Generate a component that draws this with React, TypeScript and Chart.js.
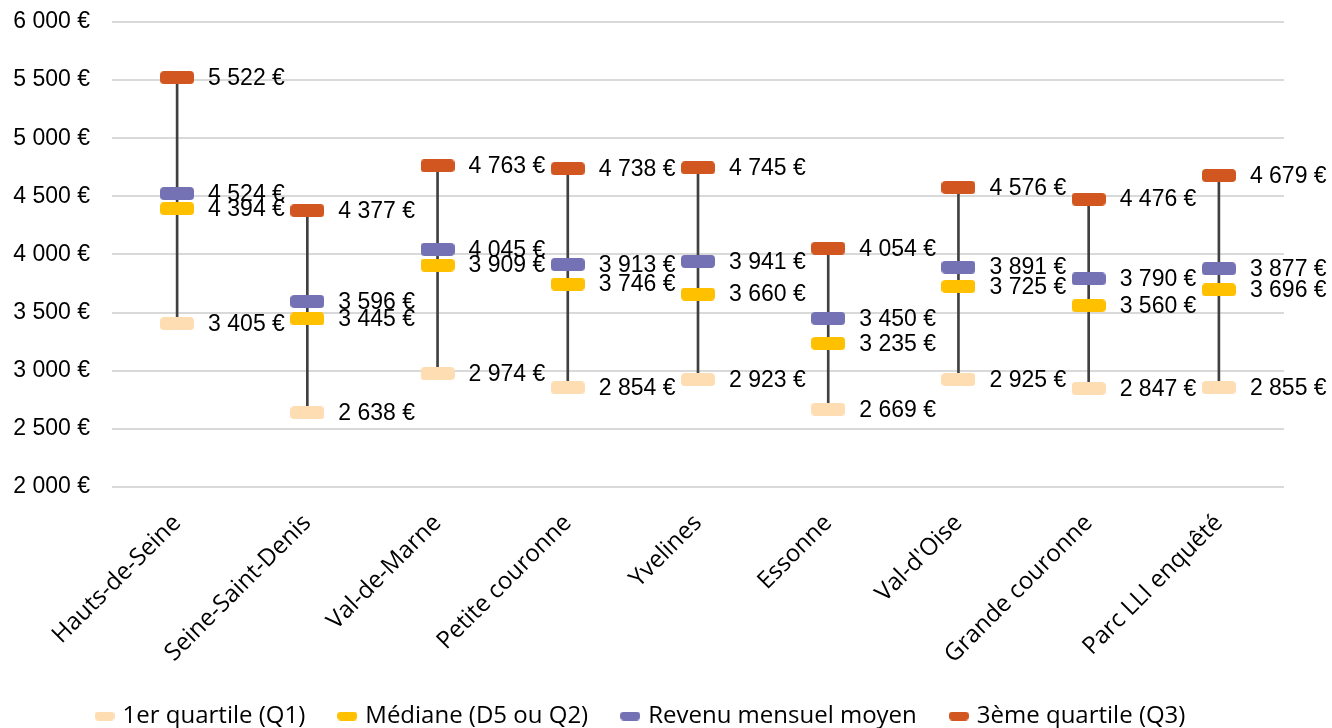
import React, { useEffect, useRef } from "react";
import { Chart, registerables } from "chart.js";

Chart.register(...registerables);

const categories = [
  "Hauts-de-Seine",
  "Seine-Saint-Denis",
  "Val-de-Marne",
  "Petite couronne",
  "Yvelines",
  "Essonne",
  "Val-d'Oise",
  "Grande couronne",
  "Parc LLI enquêté",
];
const q1 = [3405, 2638, 2974, 2854, 2923, 2669, 2925, 2847, 2855];
const median = [4394, 3445, 3909, 3746, 3660, 3235, 3725, 3560, 3696];
const mean = [4524, 3596, 4045, 3913, 3941, 3450, 3891, 3790, 3877];
const q3 = [5522, 4377, 4763, 4738, 4745, 4054, 4576, 4476, 4679];

const seriesNames = [
  "1er quartile (Q1)",
  "Médiane (D5 ou Q2)",
  "Revenu mensuel moyen",
  "3ème quartile (Q3)",
];
const seriesColors = ["#FFDDB3", "#FFC000", "#7471B4", "#D1561F"];

const fmt = (v: number) => {
  const s = Math.round(v).toString();
  const parts: string[] = [];
  for (let i = s.length; i > 0; i -= 3) parts.unshift(s.slice(Math.max(0, i - 3), i));
  return parts.join("\u00a0") + "\u00a0€";
};

function makeMarker(color: string, w: number, h: number, r: number) {
  const c = document.createElement("canvas");
  c.width = w;
  c.height = h;
  const ctx = c.getContext("2d")!;
  ctx.fillStyle = color;
  ctx.beginPath();
  (ctx as any).roundRect(0, 0, w, h, r);
  ctx.fill();
  return c;
}

const NUM_FAMILY = "'Liberation Sans', Arial, sans-serif";
const LABEL_FONT = "23px " + NUM_FAMILY;
const CAT_FONT_FAMILY = "'Open Sans', sans-serif";

export default function App() {
  const ref = useRef<HTMLCanvasElement | null>(null);

  useEffect(() => {
    if (!ref.current) return;
    const bigMarkers = seriesColors.map((c) => makeMarker(c, 34, 13, 4));
    const smallMarkers = seriesColors.map((c) => makeMarker(c, 20, 9, 4));
    const markerData = [q1, median, mean, q3];

    const labelPlugin = {
      id: "valueLabels",
      afterDatasetsDraw(chart: any) {
        const ctx = chart.ctx;
        ctx.save();
        ctx.font = LABEL_FONT;
        ctx.fillStyle = "#000";
        ctx.textAlign = "left";
        ctx.textBaseline = "middle";
        chart.data.datasets.forEach((ds: any, di: number) => {
          if (ds.type !== "line") return;
          const meta = chart.getDatasetMeta(di);
          meta.data.forEach((el: any, i: number) => {
            ctx.fillText(fmt(ds.data[i]), el.x + 31, el.y + 1);
          });
        });
        ctx.restore();
      },
    };

    const chart = new Chart(ref.current, {
      type: "bar",
      data: {
        labels: categories,
        datasets: [
          {
            type: "bar",
            label: "range",
            data: q1.map((v, i) => [v, q3[i]]) as any,
            backgroundColor: "#404040",
            barThickness: 2,
            order: 10,
          } as any,
          ...markerData.map((d, k) => ({
            type: "line",
            label: seriesNames[k],
            data: d,
            showLine: false,
            pointStyle: bigMarkers[k],
            pointRadius: 10,
            backgroundColor: seriesColors[k],
            borderColor: seriesColors[k],
            order: 0,
          })),
        ],
      },
      options: {
        animation: false,
        responsive: false,
        maintainAspectRatio: false,
        layout: { padding: { left: 0, right: 48, top: 22, bottom: -10 } },
        plugins: {
          tooltip: { enabled: false },
          legend: {
            position: "bottom",
            labels: {
              usePointStyle: true,
              pointStyleWidth: 12,
              padding: 36,
              color: "#000",
              font: { size: 24, family: CAT_FONT_FAMILY },
              filter: (item: any) => item.datasetIndex !== 0,
              generateLabels: (chart: any) => {
                const items = Chart.defaults.plugins.legend.labels.generateLabels(chart);
                return items.map((it: any) => {
                  if (it.datasetIndex > 0) it.pointStyle = smallMarkers[it.datasetIndex - 1];
                  return it;
                });
              },
            },
          },
        },
        scales: {
          x: {
            offset: true,
            grid: { display: false },
            border: { display: false },
            afterFit: (axis: any) => {
              axis.height = axis.height - 15;
            },
            ticks: {
              minRotation: 45,
              maxRotation: 45,
              padding: 14,
              color: "#000",
              font: { size: 24, family: CAT_FONT_FAMILY },
            },
          },
          y: {
            min: 2000,
            max: 6000,
            border: { display: false },
            grid: { color: "#D9D9D9", lineWidth: 2, drawTicks: false },
            afterFit: (axis: any) => {
              axis.width = 112;
              axis.paddingTop = 0;
              axis.paddingBottom = 0;
            },
            ticks: {
              stepSize: 500,
              padding: 22,
              color: "#000",
              font: { size: 23, family: NUM_FAMILY },
              callback: (v: any) => fmt(Number(v)),
            },
          },
        },
      },
      plugins: [labelPlugin],
    } as any);
    return () => chart.destroy();
  }, []);

  return (
    <div style={{ position: "absolute", left: 0, top: 0, width: 1332, height: 728, background: "#fff" }}>
      <canvas ref={ref} width={1332} height={728} style={{ display: "block" }} />
    </div>
  );
}
